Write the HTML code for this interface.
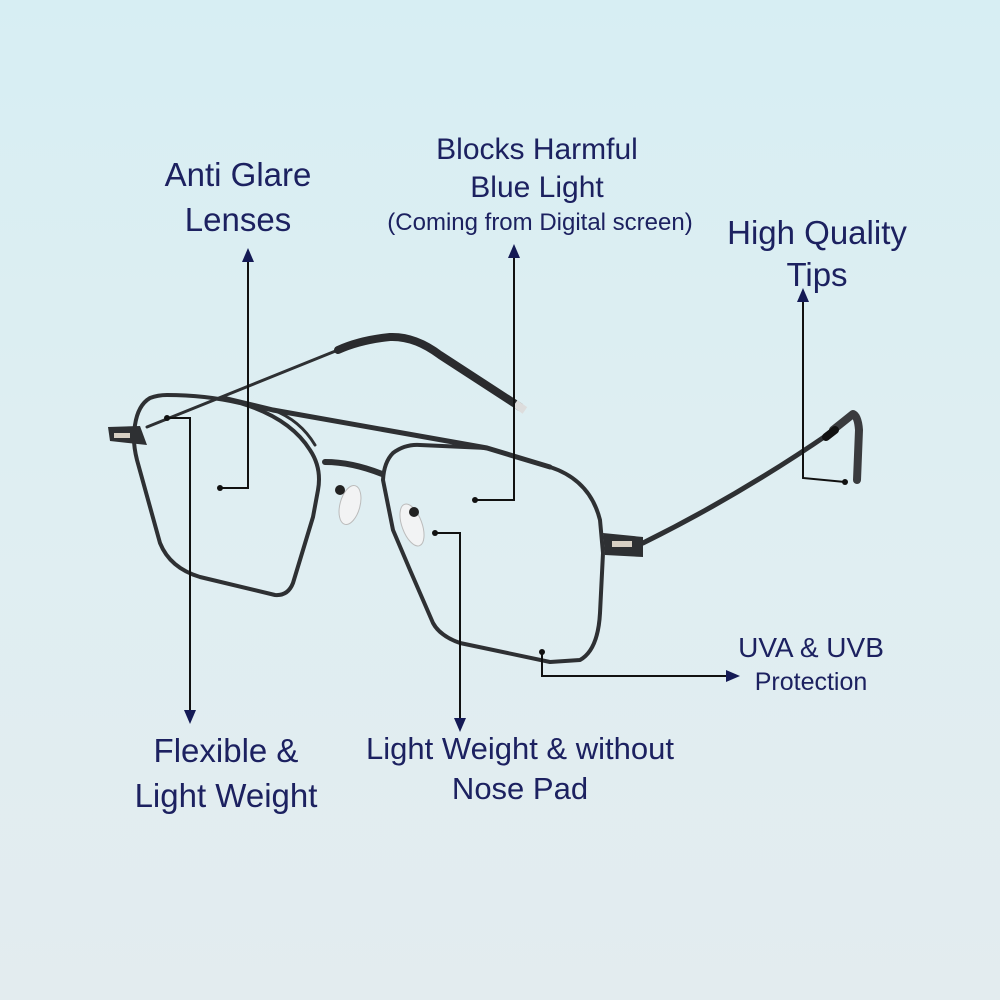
<!DOCTYPE html>
<html><head><meta charset="utf-8"><style>
html,body{margin:0;padding:0}
body{width:1000px;height:1000px;overflow:hidden;background:linear-gradient(180deg,#d7eef3 0%,#dfeef2 50%,#e3ecef 100%);font-family:"Liberation Sans","DejaVu Sans",sans-serif;position:relative}
.t{position:absolute;color:#1c2160;text-align:center;white-space:nowrap;transform:translateX(-50%)}
svg{position:absolute;left:0;top:0}
</style></head><body>
<svg width="1000" height="1000" viewBox="0 0 1000 1000">
<g fill="none" stroke="#2e3033" stroke-linecap="round" stroke-linejoin="round">
<!-- far temple -->
<path d="M147,427 L338,350" stroke-width="3"/>
<path d="M338,350 Q360,340 390,337 Q415,336 440,355 L520,407" stroke-width="8" stroke="#2a2b2e"/>
<!-- left lens -->
<path d="M167,395 Q205,395 240,403 Q290,418 310,450 Q322,468 318,490 L313,517 L293,583 Q288,596 275,595 L200,577 Q170,568 160,543 L137,460 Q132,440 135,425 Q138,405 150,398 Q158,395 167,395 Z" stroke-width="4"/>
<!-- top bar -->
<path d="M223,398 L273,410 L487,448 L550,467" stroke-width="5"/>
<path d="M273,410 Q300,420 315,445" stroke-width="3"/>
<!-- bridge -->
<path d="M325,462 Q352,462 382,474" stroke-width="6"/>
<!-- right lens -->
<path d="M393,453 Q405,444 420,445 L487,448 L550,467 Q590,480 600,520 L603,553 L600,613 Q598,650 580,660 L550,662 L460,643 Q440,636 433,623 L410,570 L393,530 L383,480 Q384,462 393,453 Z" stroke-width="4"/>
<!-- right temple -->
<path d="M643,543 Q740,495 830,433" stroke-width="5"/>
<path d="M833,430 L853,414 Q858,416 859,430 L857,480" stroke-width="8" stroke="#3a3b3e"/>
<path d="M826,437 L835,430" stroke-width="8" stroke="#111"/>
</g>
<!-- hinges -->
<path d="M108,427 L140,426 L147,445 L110,441 Z" fill="#2e3033"/>
<rect x="114" y="433" width="16" height="5" fill="#d8d0c4"/>
<path d="M603,533 L643,537 L643,557 L605,555 Z" fill="#2e3033"/>
<rect x="612" y="541" width="20" height="6" fill="#d8d0c4"/>
<rect x="516" y="401" width="8" height="12" fill="#ddd" transform="rotate(-55 520 407)"/>
<!-- nose pads -->
<ellipse cx="350" cy="505" rx="10" ry="20" fill="#f2f3f4" stroke="#bbb" transform="rotate(15 350 505)"/>
<circle cx="340" cy="490" r="5" fill="#222"/>
<ellipse cx="412" cy="525" rx="10" ry="22" fill="#f2f3f4" stroke="#bbb" transform="rotate(-20 412 525)"/>
<circle cx="414" cy="512" r="5" fill="#222"/>
<g stroke="#111" stroke-width="2" fill="none">
<polyline points="220,488 248,488 248,260"/>
<polyline points="475,500 514,500 514,255"/>
<polyline points="845,482 803,478 803,300"/>
<polyline points="167,418 190,418 190,710"/>
<polyline points="435,533 460,533 460,718"/>
<polyline points="542,652 542,676 728,676"/>
</g>
<g fill="#111">
<circle cx="220" cy="488" r="3"/><circle cx="475" cy="500" r="3"/><circle cx="845" cy="482" r="3"/>
<circle cx="167" cy="418" r="3"/><circle cx="435" cy="533" r="3"/><circle cx="542" cy="652" r="3"/>
</g>
<g fill="#141a55">
<polygon points="242,262 248,248 254,262"/>
<polygon points="508,258 514,244 520,258"/>
<polygon points="797,302 803,288 809,302"/>
<polygon points="184,710 190,724 196,710"/>
<polygon points="454,718 460,732 466,718"/>
<polygon points="726,670 740,676 726,682"/>
</g>
</svg>
<div class="t" style="left:238px;top:152px;font-size:33px;line-height:45px">Anti Glare<br>Lenses</div>
<div class="t" style="left:537px;top:131px;font-size:30px;line-height:38px">Blocks Harmful<br>Blue Light</div>
<div class="t" style="left:540px;top:209px;font-size:24px">(Coming from Digital screen)</div>
<div class="t" style="left:817px;top:212px;font-size:33px;line-height:42px">High Quality<br>Tips</div>
<div class="t" style="left:811px;top:632px;font-size:28px">UVA &amp; UVB</div>
<div class="t" style="left:811px;top:668px;font-size:25px">Protection</div>
<div class="t" style="left:226px;top:728px;font-size:33px;line-height:45px">Flexible &amp;<br>Light Weight</div>
<div class="t" style="left:520px;top:729px;font-size:31px;line-height:40px">Light Weight &amp; without<br>Nose Pad</div>
</body></html>
